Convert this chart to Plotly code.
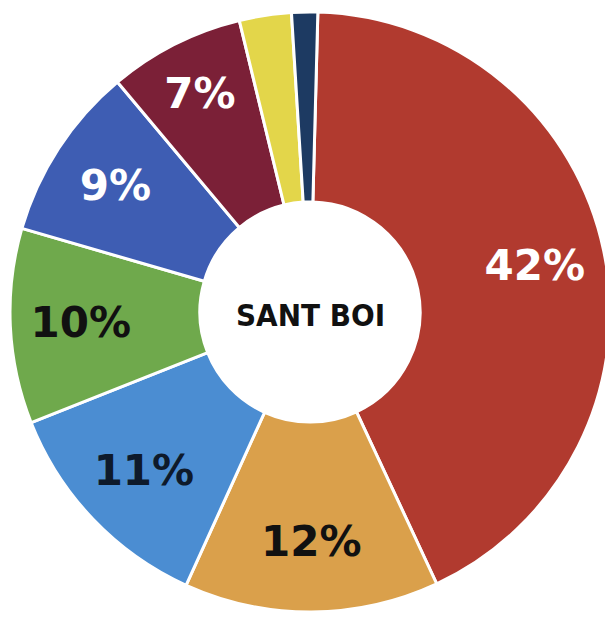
import plotly.graph_objects as go

# Slice shares (clockwise from 12 o'clock)
categories = ["A", "B", "C", "D", "E", "F", "G", "H"]
values = [42.6, 13.7, 12.2, 10.5, 9.4, 7.3, 2.8, 1.4]
labels_text = ["42%", "12%", "11%", "10%", "9%", "7%", "", ""]
colors = ["#B13A2F", "#DAA04B", "#4B8DD2", "#6FA94C", "#3E5DB3", "#7B2037", "#E3D64A", "#1D3A62"]
text_colors = ["#FFFFFF", "#111111", "#0E1A2B", "#111111", "#FFFFFF", "#FFFFFF", "#FFFFFF", "#FFFFFF"]
center_label = "SANT BOI"

# Ring with the coloured slices
fig = go.Figure(go.Pie(
    labels=categories,
    values=values,
    textinfo="none",
    sort=False,
    direction="clockwise",
    rotation=1.5,
    hole=0.367,
    marker=dict(colors=colors, line=dict(color="white", width=3)),
    showlegend=False,
    hoverinfo="skip",
))

# Transparent outer ring carrying the labels (places them further out)
fig.add_trace(go.Pie(
    labels=categories,
    values=values,
    text=labels_text,
    textinfo="text",
    textposition="inside",
    insidetextorientation="horizontal",
    sort=False,
    direction="clockwise",
    rotation=1.5,
    hole=0.53,
    marker=dict(colors=["rgba(0,0,0,0)"] * len(values), line=dict(width=0)),
    textfont=dict(family="DejaVu Sans", size=42, color=text_colors, weight="bold"),
    showlegend=False,
    hoverinfo="skip",
))

fig.add_annotation(
    x=0.5, y=0.495, xref="paper", yref="paper",
    text=center_label, showarrow=False,
    font=dict(family="DejaVu Sans Condensed", size=31, color="#111111", weight="bold"),
)

fig.update_layout(
    width=613, height=617,
    margin=dict(l=2, r=11, t=4, b=13),
    paper_bgcolor="white",
    plot_bgcolor="white",
)

fig.write_html("out.html")
